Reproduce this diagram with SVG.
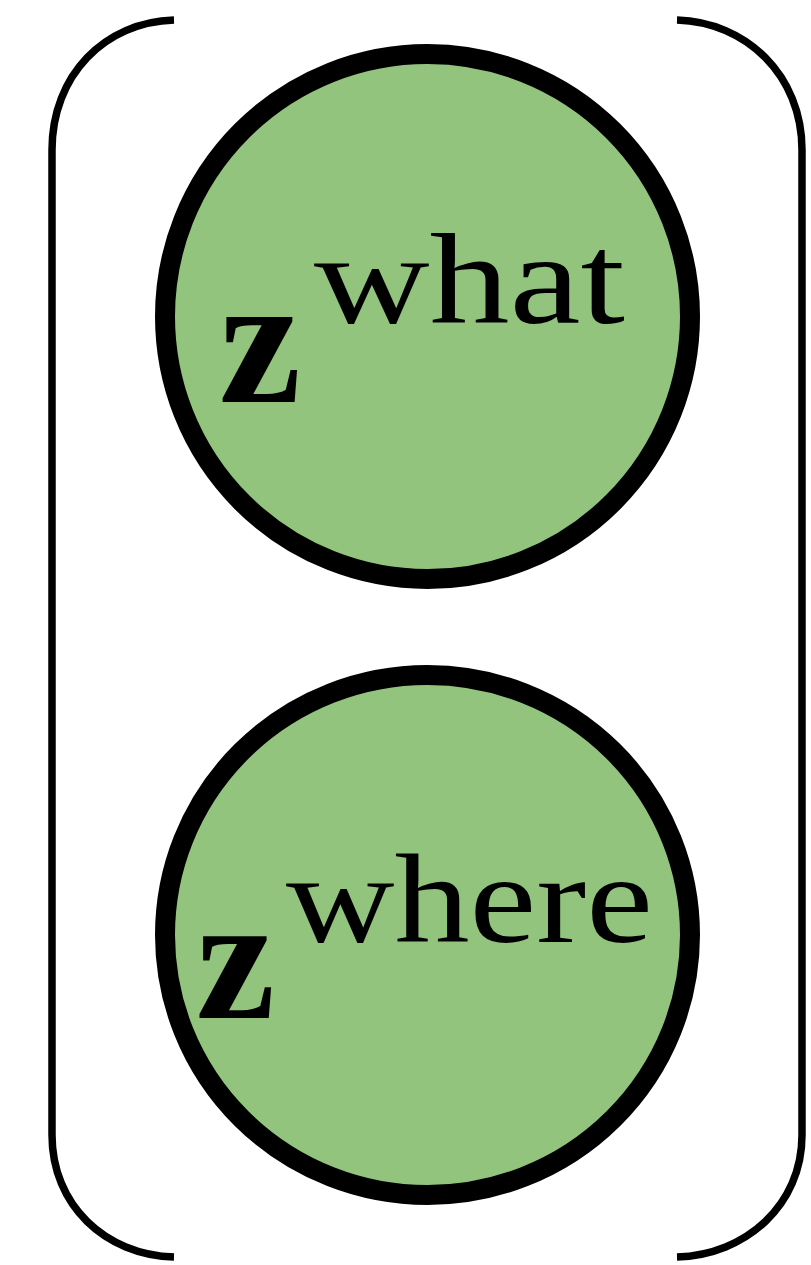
<svg xmlns="http://www.w3.org/2000/svg" width="811" height="1265" viewBox="0 0 811 1265">
<style>
.bracket{fill:none;stroke:#000;stroke-width:7.5;stroke-linecap:butt}
.node{fill:#93c47d;stroke:#000;stroke-width:20}
.z{font-family:"Liberation Serif",serif;font-weight:bold;fill:#000}
.sup{font-family:"Liberation Serif",serif;fill:#000}
</style>
<rect width="811" height="1265" fill="#fff"/>
<g id="brackets">
<path class="bracket" d="M174,20 C105,22 52,75 52,150 L52,1135 C52,1205 105,1255 174,1257"/>
<path class="bracket" d="M677,20 C746,22 802,75 802,150 L802,1135 C802,1205 746,1255 677,1257"/>
</g>
<g id="connectors"></g>
<g id="node-what">
<ellipse class="node" cx="427.5" cy="316.5" rx="262.5" ry="262.5"/>
<text class="z" x="219" y="402" font-size="185">z</text>
<text class="sup" x="314" y="323" font-size="130" textLength="311" lengthAdjust="spacingAndGlyphs">what</text>
</g>
<g id="node-where">
<ellipse class="node" cx="427.5" cy="935" rx="262.5" ry="260"/>
<text class="z" x="196" y="1018" font-size="178">z</text>
<text class="sup" x="286" y="942" font-size="127" textLength="367" lengthAdjust="spacingAndGlyphs">where</text>
</g>
</svg>
